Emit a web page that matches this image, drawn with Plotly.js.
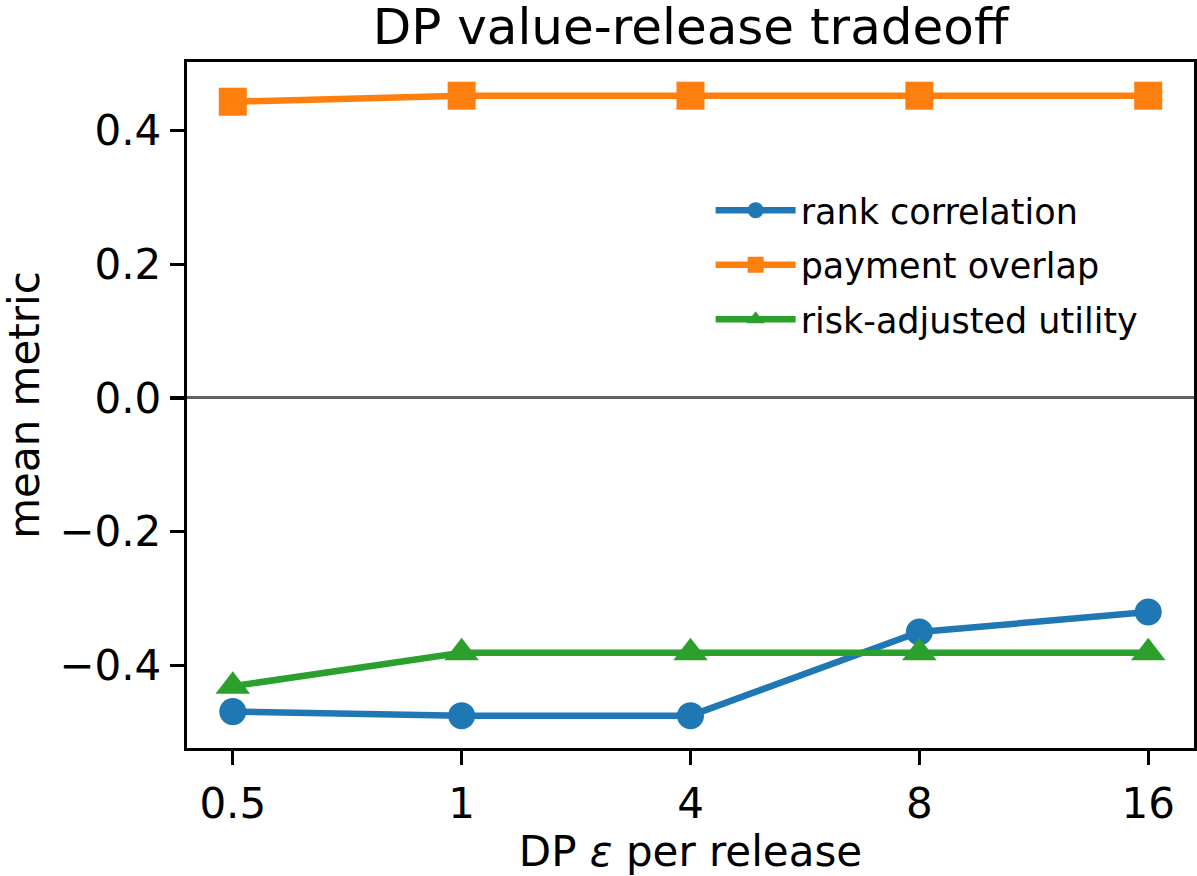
<!DOCTYPE html>
<html>
<head>
<meta charset="utf-8">
<script src="https://cdn.plot.ly/plotly-3.0.1.min.js"></script>
<style>
  html, body { margin: 0; padding: 0; background: #fff; }
  #chart { width: 1197px; height: 876px; }
</style>
</head>
<body>
<div id="chart"></div>
<script>
// Privacy budget per release (categorical axis)
const epsilonLabels = ["0.5", "1", "4", "8", "16"];

// Mean metric per epsilon
const rankCorrelation = [-0.469, -0.475, -0.475, -0.350, -0.320];
const paymentOverlap = [0.443, 0.452, 0.452, 0.452, 0.452];
const riskAdjustedUtility = [-0.431, -0.381, -0.381, -0.381, -0.381];

const yTicks = [-0.4, -0.2, 0.0, 0.2, 0.4];

const FONT = "DejaVu Sans, Verdana, sans-serif";

function series(name, values, color, symbol, size) {
  return {
    type: "scatter",
    mode: "lines+markers",
    name: name,
    legendgroup: name,
    x: epsilonLabels,
    y: values,
    line: { color: color, width: 6.5 },
    marker: { color: color, symbol: symbol, size: size },
    cliponaxis: false
  };
}

const data = [
  series("rank correlation", rankCorrelation, "#1f77b4", "circle", 27),
  series("payment overlap", paymentOverlap, "#ff7f0e", "square", 28),
  series("risk-adjusted utility", riskAdjustedUtility, "#2ca02c", "triangle-up", 30)
];

const layout = {
  width: 1197,
  height: 876,
  paper_bgcolor: "#ffffff",
  plot_bgcolor: "#ffffff",
  font: { family: FONT, size: 42, color: "#000000" },
  margin: { l: 187, r: 3, t: 62, b: 128, pad: 0 },
  showlegend: true,
  title: {
    text: "DP value-release tradeoff",
    font: { family: FONT, size: 50, color: "#000000" },
    x: 0.5,
    xref: "paper",
    xanchor: "center",
    y: 1,
    yref: "container",
    yanchor: "top",
    pad: { t: 9 }
  },
  xaxis: {
    type: "category",
    categoryorder: "array",
    categoryarray: epsilonLabels,
    range: [-0.2, 4.2],
    showgrid: false,
    zeroline: false,
    showline: true,
    mirror: true,
    linecolor: "#000000",
    linewidth: 3.3,
    ticks: "outside",
    ticklen: 14,
    tickwidth: 3.3,
    tickcolor: "#000000",
    ticklabelstandoff: 2,
    tickfont: { family: FONT, size: 42, color: "#000000" },
    title: {
      text: "DP <i>ε</i> per release",
      font: { family: FONT, size: 42, color: "#000000" },
      standoff: 0
    }
  },
  yaxis: {
    range: [-0.5234, 0.5024],
    tickmode: "array",
    tickvals: yTicks,
    ticktext: yTicks.map(v => (v < 0 ? "\u2212" : "") + Math.abs(v).toFixed(1)),
    showgrid: false,
    zeroline: true,
    zerolinecolor: "#606060",
    zerolinewidth: 3,
    showline: true,
    mirror: true,
    linecolor: "#000000",
    linewidth: 3.3,
    ticks: "outside",
    ticklen: 14,
    tickwidth: 3.3,
    tickcolor: "#000000",
    tickfont: { family: FONT, size: 42, color: "#000000" },
    title: {
      text: "mean metric",
      font: { family: FONT, size: 42, color: "#000000" },
      standoff: 16
    }
  },
  legend: {
    x: 0.52,
    y: 0.8265,
    xanchor: "left",
    yanchor: "top",
    bgcolor: "rgba(255,255,255,0)",
    borderwidth: 0,
    font: { family: FONT, size: 35, color: "#000000" },
    itemwidth: 80,
    traceorder: "grouped",
    tracegroupgap: 6
  }
};

Plotly.newPlot("chart", data, layout, { displayModeBar: false, staticPlot: true });
</script>
</body>
</html>
